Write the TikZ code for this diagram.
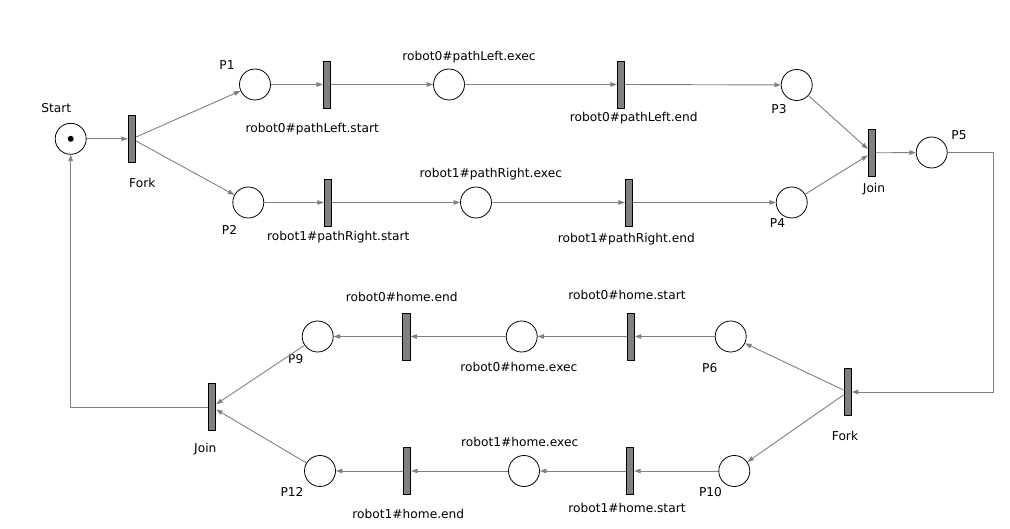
\documentclass[tikz,border=0pt]{standalone}
\usepackage{fontspec}
\setmainfont{DejaVu Sans}
\usetikzlibrary{arrows.meta}
\definecolor{arcgray}{HTML}{808080}
\definecolor{transgray}{HTML}{808080}
\tikzset{
  place/.style={circle, draw=black, fill=white, line width=0.8pt, minimum size=31pt, inner sep=0pt},
  trans/.style={rectangle, draw=black, fill=transgray, line width=0.8pt, minimum width=7.5pt, minimum height=47pt, inner sep=0pt},
  lbl/.style={anchor=base, inner sep=0pt, font=\fontsize{12.2}{14}\selectfont},
  arc/.style={draw=arcgray, line width=0.9pt, -{Triangle[length=6.5pt,width=4.5pt]}},
}
\begin{document}
\begin{tikzpicture}[x=1pt,y=-1pt]
\useasboundingbox (0,0) rectangle (1010,529);
\fill[white] (0,0) rectangle (1010,529);
% places
\node[place] (Start) at (70.7,138.8) {};
\fill (Start.center) circle (3pt);
\node[place] (P1) at (255,84.5) {};
\node[place] (P2) at (248.3,202.5) {};
\node[place] (PLexec) at (449,84.5) {};
\node[place] (PRexec) at (476,202.5) {};
\node[place] (P3) at (796.7,85) {};
\node[place] (P4) at (791.7,202.5) {};
\node[place] (P5) at (931.7,152.5) {};
\node[place] (P6) at (730.7,336.5) {};
\node[place] (H0exec) at (521.7,336.5) {};
\node[place] (P9) at (317.7,336.5) {};
\node[place] (P10) at (734.3,471) {};
\node[place] (H1exec) at (524,471) {};
\node[place] (P12) at (320,471) {};
% transitions
\node[trans] (Fork1) at (132,138.8) {};
\node[trans] (TpLs) at (327,84.5) {};
\node[trans] (TpLe) at (621,84.5) {};
\node[trans] (TpRs) at (328,202.5) {};
\node[trans] (TpRe) at (629,202.5) {};
\node[trans] (Join1) at (872,152.8) {};
\node[trans] (Fork2) at (847.7,392) {};
\node[trans] (Th0s) at (630.7,336.5) {};
\node[trans] (Th0e) at (406.3,336.5) {};
\node[trans] (Th1s) at (630,471) {};
\node[trans] (Th1e) at (407,471) {};
\node[trans] (Join2) at (212,407) {};
% labels
\node[lbl] (lStart) at (56.2,112.5) {Start};
\node[lbl] (lP1) at (227,69.5) {P1};
\node[lbl] (lFork1) at (142.3,187.2) {Fork};
\node[lbl] (lP2) at (229.5,234.5) {P2};
\node[lbl] (lTpLs) at (312.3,132.8) {robot0\#pathLeft.start};
\node[lbl] (lPLexec) at (469,60.5) {robot0\#pathLeft.exec};
\node[lbl] (lTpLe) at (633.8,121.8) {robot0\#pathLeft.end};
\node[lbl] (lTpRs) at (338.3,240.5) {robot1\#pathRight.start};
\node[lbl] (lPRexec) at (490.8,177.2) {robot1\#pathRight.exec};
\node[lbl] (lTpRe) at (626.3,242.2) {robot1\#pathRight.end};
\node[lbl] (lP3) at (779,113.8) {P3};
\node[lbl] (lP4) at (777.5,227.8) {P4};
\node[lbl] (lJoin1) at (874,192.8) {Join};
\node[lbl] (lP5) at (959,139.5) {P5};
\node[lbl] (lTh0s) at (627,299.5) {robot0\#home.start};
\node[lbl] (lH0exec) at (518.8,371.8) {robot0\#home.exec};
\node[lbl] (lTh0e) at (401.7,301.2) {robot0\#home.end};
\node[lbl] (lP6) at (709.7,372.8) {P6};
\node[lbl] (lFork2) at (845,440.5) {Fork};
\node[lbl] (lP9) at (295.7,363.8) {P9};
\node[lbl] (lJoin2) at (205.3,452.8) {Join};
\node[lbl] (lP10) at (710.5,496.2) {P10};
\node[lbl] (lTh1s) at (627,512.2) {robot1\#home.start};
\node[lbl] (lH1exec) at (519.7,446.2) {robot1\#home.exec};
\node[lbl] (lTh1e) at (408.3,518.8) {robot1\#home.end};
\node[lbl] (lP12) at (292,496.8) {P12};
% corner coordinates
\coordinate (c1) at (993.3,270);
% arcs
\draw[arc] (Start) -- (Fork1);
\draw[arc] (Fork1) -- (P1);
\draw[arc] (Fork1) -- (P2);
\draw[arc] (P1) -- (TpLs);
\draw[arc] (TpLs) -- (PLexec);
\draw[arc] (PLexec) -- (TpLe);
\draw[arc] (TpLe) -- (P3);
\draw[arc] (P2) -- (TpRs);
\draw[arc] (TpRs) -- (PRexec);
\draw[arc] (PRexec) -- (TpRe);
\draw[arc] (TpRe) -- (P4);
\draw[arc] (P3) -- (Join1);
\draw[arc] (P4) -- (Join1);
\draw[arc] (Join1) -- (P5);
\draw[arc] (P5.east) -| (c1) |- (Fork2.east);
\draw[arc] (Fork2) -- (P6);
\draw[arc] (Fork2) -- (P10);
\draw[arc] (P6) -- (Th0s);
\draw[arc] (Th0s) -- (H0exec);
\draw[arc] (H0exec) -- (Th0e);
\draw[arc] (Th0e) -- (P9);
\draw[arc] (P10) -- (Th1s);
\draw[arc] (Th1s) -- (H1exec);
\draw[arc] (H1exec) -- (Th1e);
\draw[arc] (Th1e) -- (P12);
\draw[arc] (P9) -- (Join2);
\draw[arc] (P12) -- (Join2);
\draw[arc] (Join2.west) -| (Start.south);
\end{tikzpicture}
\end{document}
